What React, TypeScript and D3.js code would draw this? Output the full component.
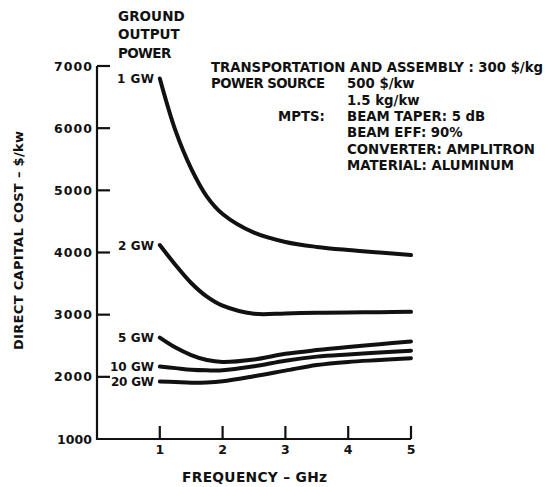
import React from "react";
import * as d3 from "d3";

// ---- data ----
const freq = [1, 1.25, 1.5, 1.75, 2, 2.5, 3, 3.5, 4, 4.5, 5];
const gw1 = [6800, 5960, 5350, 4900, 4620, 4320, 4170, 4090, 4040, 4000, 3960];
const gw2 = [4120, 3800, 3510, 3290, 3145, 3015, 3020, 3030, 3035, 3040, 3045];
const gw5 = [2630, 2470, 2350, 2270, 2240, 2280, 2370, 2430, 2480, 2525, 2570];
const gw10 = [2165, 2140, 2115, 2105, 2105, 2170, 2260, 2325, 2360, 2390, 2420];
const gw20 = [1925, 1915, 1905, 1910, 1930, 2010, 2100, 2190, 2240, 2270, 2300];
const seriesLabels = ["1 GW", "2 GW", "5 GW", "10 GW", "20 GW"];
const seriesValues = [gw1, gw2, gw5, gw10, gw20];
const yTicks = [1000, 2000, 3000, 4000, 5000, 6000, 7000];
const xTicks = [1, 2, 3, 4, 5];
const headerLines = ["GROUND", "OUTPUT", "POWER"];
const noteTexts = [
  "TRANSPORTATION AND ASSEMBLY : 300 $/kg",
  "POWER SOURCE",
  "500 $/kw",
  "1.5 kg/kw",
  "MPTS:",
  "BEAM TAPER: 5 dB",
  "BEAM EFF: 90%",
  "CONVERTER: AMPLITRON",
  "MATERIAL: ALUMINUM",
];

// ---- layout ----
const FONT = "'DejaVu Sans', Verdana, sans-serif";
const INK = "#111";
const noteCol = [0, 0, 2, 2, 1, 2, 2, 2, 2];
const noteRow = [0, 1, 1, 2, 3, 3, 4, 5, 6];
const noteFit: (number | undefined)[] = [332, 114, undefined, undefined, undefined, undefined, undefined, undefined, undefined];
const labelWidths = [37, 36, 36, 44, 43];
const headerWidths = [66.7, 61.7, 53.3];

export default function App() {
  const x = d3.scaleLinear().domain([0, 5]).range([97, 411]);
  const y = d3.scaleLinear().domain([1000, 7000]).range([439, 66]);
  const line = d3
    .line<number>()
    .x((_, i) => x(freq[i]))
    .y((d) => y(d))
    .curve(d3.curveCatmullRom.alpha(0.5));

  const noteX = [211, 278, 347];
  const noteRowY = (r: number) => 67 + r * 16.4;

  return (
    <svg
      width={555}
      height={487}
      style={{ position: "absolute", left: 0, top: 0, background: "#fff" }}
      fontFamily={FONT}
      fill={INK}
    >
      <rect width={555} height={487} fill="#fff" />
      {/* axes */}
      <line x1={x(0)} x2={x(0)} y1={y(7000)} y2={y(1000) + 1} stroke={INK} strokeWidth={2.2} />
      <line x1={x(0) - 1} x2={x(5)} y1={y(1000)} y2={y(1000)} stroke={INK} strokeWidth={2.2} />
      {yTicks.filter((t) => t > 1000).map((t) => (
        <line key={t} x1={x(0)} x2={x(0) + 13} y1={y(t)} y2={y(t)} stroke={INK} strokeWidth={2.2} />
      ))}
      {xTicks.map((t) => (
        <line key={t} x1={x(t)} x2={x(t)} y1={y(1000)} y2={y(1000) - 13} stroke={INK} strokeWidth={2.2} />
      ))}
      {yTicks.map((t) => (
        <text
          key={t}
          x={92}
          y={y(t) + 4.6}
          textAnchor="end"
          fontSize={12.5}
          fontWeight="bold"
          textLength={t === 1000 ? 35 : 38}
          lengthAdjust="spacing"
        >
          {t}
        </text>
      ))}
      {xTicks.map((t) => (
        <text key={t} x={x(t)} y={454} textAnchor="middle" fontSize={12.5} fontWeight="bold">
          {t}
        </text>
      ))}
      <text x={182} y={481.5} fontSize={13.8} fontWeight="bold" textLength={145} lengthAdjust="spacing">
        FREQUENCY – GHz
      </text>
      <text
        transform="translate(22.5,240.5) rotate(-90)"
        textAnchor="middle"
        fontSize={13}
        fontWeight="bold"
        textLength={219}
        lengthAdjust="spacing"
      >
        DIRECT CAPITAL COST – $/kw
      </text>
      {/* header */}
      {headerLines.map((s, i) => (
        <text
          key={s}
          x={118}
          y={20.5 + i * 18.6}
          fontSize={13.5}
          fontWeight="bold"
          textLength={headerWidths[i]}
          lengthAdjust="spacing"
        >
          {s}
        </text>
      ))}
      {/* curves */}
      {seriesValues.map((vals, i) => (
        <path
          key={i}
          d={line(vals) || ""}
          fill="none"
          stroke={INK}
          strokeWidth={4}
          strokeLinecap="round"
        />
      ))}
      {seriesValues.map((vals, i) => (
        <text
          key={i}
          x={154}
          y={y(vals[0]) + 4.5}
          textAnchor="end"
          fontSize={12}
          fontWeight="bold"
          textLength={labelWidths[i]}
          lengthAdjust="spacing"
        >
          {seriesLabels[i]}
        </text>
      ))}
      {/* notes */}
      {noteTexts.map((s, i) => (
        <text
          key={i}
          x={noteX[noteCol[i]]}
          y={noteRowY(noteRow[i]) + 4.8}
          fontSize={13.3}
          fontWeight="bold"
          textLength={noteFit[i]}
          lengthAdjust="spacing"
        >
          {s}
        </text>
      ))}
    </svg>
  );
}
